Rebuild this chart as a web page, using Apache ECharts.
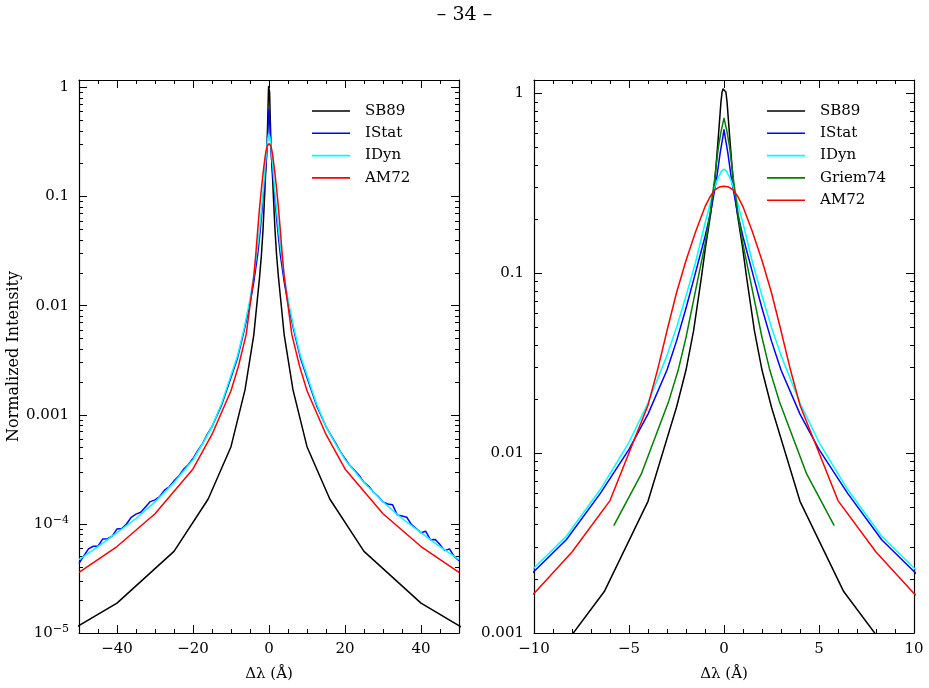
<!DOCTYPE html>
<html>
<head>
<meta charset="utf-8">
<script src="https://cdn.jsdelivr.net/npm/echarts@6/dist/echarts.min.js"></script>
<style>
  html, body { margin: 0; background: #fff; }
  #chart { width: 929px; height: 688px; }
</style>
</head>
<body>
<div id="chart"></div>
<script>
// half profiles (|Δλ| in Å, normalized intensity), mirrored below
const sb89X = [0, 0.05, 0.1, 0.16, 0.22, 0.33, 0.49, 0.7, 0.97, 1.19, 1.6, 2.0, 2.5, 4.0, 6.3, 10, 16, 25, 40, 63];
const sb89Y = [1.07, 1.06, 1.02, 0.9, 0.74, 0.52, 0.32, 0.215, 0.141, 0.095, 0.048, 0.029, 0.018, 0.0054, 0.0017, 5.1e-4, 1.69e-4, 5.6e-5, 1.88e-5, 6.3e-6];

const istatX = [0, 0.1, 0.2, 0.4, 0.7, 1.0, 1.6, 2.0, 2.5, 3.0, 4.0, 5.0, 6.5, 8.3, 10, 12.5];
const istatY = [0.63, 0.54, 0.47, 0.33, 0.22, 0.16, 0.092, 0.064, 0.042, 0.029, 0.0165, 0.0105, 0.006, 0.0033, 0.0022, 0.00122];
// IStat far wings are noisy and not symmetric
const istatWingX = [15, 16.25, 17.5, 18.75, 20, 21.25, 22.5, 23.75, 25, 26.25, 27.5, 28.75, 30, 31.25, 32.5, 33.75, 35, 36.25, 37.5, 38.75, 40, 41.25, 42.5, 43.75, 45, 46.25, 47.5, 48.75, 50];
const istatWingLeftY = [7.80e-4, 6.62e-4, 5.43e-4, 4.70e-4, 3.97e-4, 3.48e-4, 3.16e-4, 2.74e-4, 2.48e-4, 2.19e-4, 2.04e-4, 1.78e-4, 1.66e-4, 1.60e-4, 1.43e-4, 1.28e-4, 1.23e-4, 1.15e-4, 9.98e-5, 9.06e-5, 8.99e-5, 7.71e-5, 7.31e-5, 7.28e-5, 6.24e-5, 6.24e-5, 5.90e-5, 5.08e-5, 4.34e-5];
const istatWingRightY = [7.80e-4, 6.55e-4, 5.52e-4, 4.62e-4, 3.97e-4, 3.44e-4, 3.10e-4, 2.78e-4, 2.40e-4, 2.21e-4, 1.95e-4, 1.78e-4, 1.59e-4, 1.52e-4, 1.50e-4, 1.21e-4, 1.18e-4, 1.15e-4, 9.86e-5, 9.06e-5, 8.30e-5, 8.55e-5, 7.14e-5, 7.19e-5, 6.46e-5, 5.69e-5, 5.90e-5, 5.02e-5, 4.59e-5];

const idynX = [0, 0.125, 0.25, 0.375, 0.5, 1.0, 1.5, 2.0, 2.5, 3.0, 4.0, 5.0, 6.5, 8.3, 10, 12.5, 15, 17.5, 20, 25, 30, 35, 40, 45, 50];
const idynY = [0.38, 0.372, 0.35, 0.327, 0.3, 0.19, 0.115, 0.075, 0.05, 0.035, 0.019, 0.0115, 0.0063, 0.00345, 0.0023, 0.00126, 7.8e-4, 5.4e-4, 3.88e-4, 2.4e-4, 1.59e-4, 1.12e-4, 8.3e-5, 6.2e-5, 4.7e-5];

const griemX = [0, 0.15, 0.3, 0.5, 0.75, 1.0, 1.45, 2.0, 2.41, 2.9, 4.35, 5.8];
const griemY = [0.73, 0.62, 0.5, 0.33, 0.21, 0.145, 0.085, 0.044, 0.029, 0.0196, 0.00767, 0.00396];

const am72X = [0, 0.25, 0.5, 0.75, 1.0, 1.5, 2.0, 2.5, 3.0, 3.5, 4.0, 6.0, 8.0, 10, 15, 20, 30, 40, 50];
const am72Y = [0.305, 0.302, 0.29, 0.265, 0.235, 0.17, 0.118, 0.078, 0.048, 0.029, 0.0185, 0.00545, 0.00282, 0.00166, 6.6e-4, 3.19e-4, 1.24e-4, 6.2e-5, 3.6e-5];

// ticks
const leftXMajor = [-40, -20, 0, 20, 40];
const leftXMinor = [-45, -35, -30, -25, -15, -10, -5, 5, 10, 15, 25, 30, 35, 45];
const rightXMajor = [-10, -5, 0, 5, 10];
const rightXMinor = [-9, -8, -7, -6, -4, -3, -2, -1, 1, 2, 3, 4, 6, 7, 8, 9];
const leftYMajor = [1e-5, 1e-4, 1e-3, 0.01, 0.1, 1];
const rightYMajor = [1e-3, 0.01, 0.1, 1];

const FONT = 'DejaVu Serif';
const names = ['SB89', 'IStat', 'IDyn', 'Griem74', 'AM72'];
const colors = { SB89: '#000000', IStat: '#0000ff', IDyn: '#00ffff', Griem74: '#008000', AM72: '#ff0000' };

function mirror(xs, ys) {
  const out = [];
  for (let i = xs.length - 1; i > 0; i--) out.push([-xs[i], ys[i]]);
  for (let i = 0; i < xs.length; i++) out.push([xs[i], ys[i]]);
  return out;
}

const istatData = istatWingX.map((x, i) => [-x, istatWingLeftY[i]]).reverse()
  .concat(mirror(istatX, istatY))
  .concat(istatWingX.map((x, i) => [x, istatWingRightY[i]]));

const profiles = {
  SB89: mirror(sb89X, sb89Y),
  IStat: istatData,
  IDyn: mirror(idynX, idynY),
  Griem74: mirror(griemX, griemY),
  AM72: mirror(am72X, am72Y)
};

function minorLog(minExp, max) {
  const out = [];
  for (let e = minExp; e <= 0; e++) {
    for (let k = 2; k <= 9; k++) {
      const v = k * Math.pow(10, e);
      if (v <= max) out.push(v);
    }
  }
  return out;
}

function fmtMinus(v) {
  return String(v).replace('-', '\u2212');
}

function fmtLog(v) {
  const e = Math.round(Math.log10(v));
  if (e >= 0) return '1';
  if (e >= -3) return Math.pow(10, e).toFixed(-e);
  return '{b|10}{s|\u2212' + (-e) + '}';
}

const line = { show: true, onZero: false, lineStyle: { color: '#000', width: 1.2 } };
const noLine = { show: false, onZero: false };
const tickStyle = { color: '#000', width: 1 };
const labelText = { color: '#000', fontFamily: FONT, fontSize: 15 };

function makeXAxes(grid, min, max, major, minor) {
  const base = { type: 'value', gridIndex: grid, min: min, max: max, splitLine: { show: false } };
  return [
    Object.assign({}, base, {
      position: 'bottom', axisLine: line,
      axisTick: { inside: true, length: 8, customValues: major, lineStyle: tickStyle },
      axisLabel: Object.assign({ customValues: major, margin: 9, formatter: fmtMinus }, labelText),
      name: '\u0394\u03bb (\u00c5)', nameLocation: 'middle', nameGap: 34,
      nameTextStyle: { color: '#000', fontFamily: FONT, fontSize: 15 }
    }),
    Object.assign({}, base, {
      position: 'bottom', axisLine: noLine,
      axisTick: { inside: true, length: 4, customValues: minor, lineStyle: tickStyle },
      axisLabel: { show: false }
    }),
    Object.assign({}, base, {
      position: 'top', axisLine: line,
      axisTick: { inside: true, length: 8, customValues: major, lineStyle: tickStyle },
      axisLabel: { show: false }
    }),
    Object.assign({}, base, {
      position: 'top', axisLine: noLine,
      axisTick: { inside: true, length: 4, customValues: minor, lineStyle: tickStyle },
      axisLabel: { show: false }
    })
  ];
}

function makeYAxes(grid, min, max, major, withName) {
  const minor = minorLog(Math.round(Math.log10(min)), max);
  const base = { type: 'log', logBase: 10, gridIndex: grid, min: min, max: max, splitLine: { show: false }, minorTick: { show: false } };
  const main = Object.assign({}, base, {
    position: 'left', axisLine: line,
    axisTick: { inside: true, length: 8, customValues: major, lineStyle: tickStyle },
    axisLabel: Object.assign({
      customValues: major, margin: 10, formatter: fmtLog,
      rich: {
        b: { fontFamily: FONT, fontSize: 15, color: '#000', lineHeight: 18 },
        s: { fontFamily: FONT, fontSize: 11, color: '#000', lineHeight: 11, verticalAlign: 'top' }
      }
    }, labelText)
  });
  if (withName) {
    Object.assign(main, {
      name: 'Normalized Intensity', nameLocation: 'middle', nameGap: 57, nameRotate: 90,
      nameTextStyle: { color: '#000', fontFamily: FONT, fontSize: 16 }
    });
  }
  return [
    main,
    Object.assign({}, base, {
      position: 'left', axisLine: noLine,
      axisTick: { inside: true, length: 4, customValues: minor, lineStyle: tickStyle },
      axisLabel: { show: false }
    }),
    Object.assign({}, base, {
      position: 'right', axisLine: line,
      axisTick: { inside: true, length: 8, customValues: major, lineStyle: tickStyle },
      axisLabel: { show: false }
    }),
    Object.assign({}, base, {
      position: 'right', axisLine: noLine,
      axisTick: { inside: true, length: 4, customValues: minor, lineStyle: tickStyle },
      axisLabel: { show: false }
    })
  ];
}

function makeSeries(name, xIdx, yIdx) {
  return {
    name: name, type: 'line', xAxisIndex: xIdx, yAxisIndex: yIdx,
    data: profiles[name], symbol: 'none', clip: true,
    lineStyle: { color: colors[name], width: 1.5, join: 'round' },
    itemStyle: { color: colors[name] }
  };
}

const leftNames = ['SB89', 'IStat', 'IDyn', 'AM72'];

const legendBase = {
  orient: 'vertical', top: 103, padding: 0,
  icon: 'rect', itemWidth: 38, itemHeight: 1.6, itemGap: 6.3,
  selectedMode: false,
  textStyle: { color: '#000', fontFamily: FONT, fontSize: 15, lineHeight: 16, padding: [0, 0, 0, 10] }
};

const chart = echarts.init(document.getElementById('chart'), null, { renderer: 'canvas' });
chart.setOption({
  animation: false,
  backgroundColor: '#fff',
  title: {
    text: '\u2013 34 \u2013', left: 'center', top: 1,
    textStyle: { color: '#000', fontFamily: FONT, fontSize: 19, fontWeight: 'normal' }
  },
  legend: [
    Object.assign({}, legendBase, { data: leftNames, left: 312 }),
    Object.assign({}, legendBase, { data: names, left: 767 })
  ],
  grid: [
    { left: 79, top: 80, width: 380, height: 553 },
    { left: 534, top: 80, width: 380, height: 553 }
  ],
  xAxis: makeXAxes(0, -50, 50, leftXMajor, leftXMinor)
    .concat(makeXAxes(1, -10, 10, rightXMajor, rightXMinor)),
  yAxis: makeYAxes(0, 1e-5, 1.17, leftYMajor, true)
    .concat(makeYAxes(1, 1e-3, 1.19, rightYMajor, false)),
  series: leftNames.map(n => makeSeries(n, 0, 0))
    .concat(names.map(n => makeSeries(n, 4, 4)))
});
</script>
</body>
</html>
